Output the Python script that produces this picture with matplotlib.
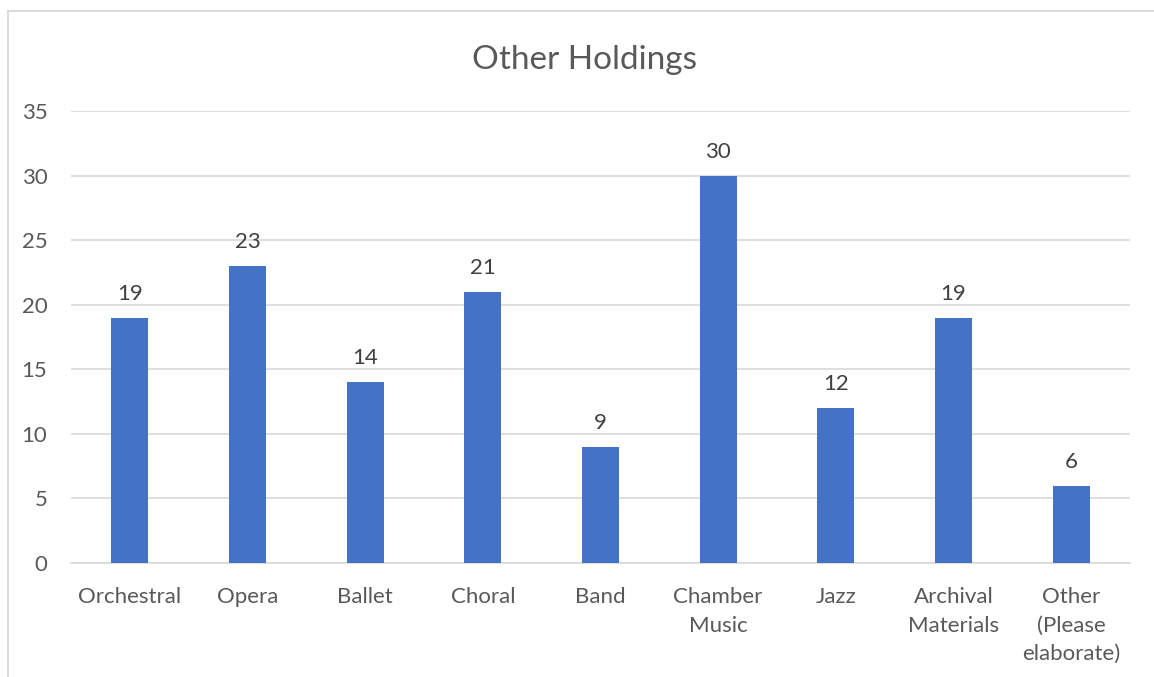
import matplotlib.pyplot as plt
import numpy as np
from matplotlib.lines import Line2D

# holdings counts per category
categories = ["Orchestral", "Opera", "Ballet", "Choral", "Band",
              "Chamber\nMusic", "Jazz", "Archival\nMaterials",
              "Other\n(Please\nelaborate)"]
counts = [19, 23, 14, 21, 9, 30, 12, 19, 6]
yticks = [0, 5, 10, 15, 20, 25, 30, 35]

plt.rcParams['font.family'] = ['Lato', 'DejaVu Sans']
text_color = "#595959"

fig = plt.figure(figsize=(11.54, 6.77), dpi=100)
ax = fig.add_axes([0.0615, 0.1684, 0.9177, 0.6677])

x = np.arange(len(categories))
bars = ax.bar(x, counts, width=0.315, color="#4472c4", zorder=3)

for xi, v in zip(x, counts):
    ax.annotate(str(v), (xi, v), xytext=(0, 10), textcoords="offset points",
                ha="center", va="bottom", fontsize=16, color="#404040")

ax.set_xlim(-0.5, len(categories) - 0.5)
ax.set_ylim(0, 35)
ax.set_yticks(yticks)
ax.set_xticks(x)
ax.set_xticklabels(categories, fontsize=16, color=text_color, linespacing=1.52)
ax.tick_params(axis="y", labelsize=16, labelcolor=text_color, length=0, pad=17)
ax.tick_params(axis="x", length=0, pad=17.5)
ax.grid(axis="y", color="#d9d9d9", linewidth=1.2, zorder=0)
for side in ["top", "right", "left"]:
    ax.spines[side].set_visible(False)
ax.spines["bottom"].set_color("#d9d9d9")
ax.spines["bottom"].set_linewidth(1.2)

fig.text(0.5064, 0.911, "Other Holdings", ha="center", va="center",
         fontsize=24, color=text_color)

# chart frame
fig.add_artist(Line2D([0.0065, 0.0065], [0, 0.984], color="#d9d9d9", lw=1.3,
                      transform=fig.transFigure))
fig.add_artist(Line2D([0.0065, 1.0], [0.984, 0.984], color="#d9d9d9", lw=1.3,
                      transform=fig.transFigure))

fig.savefig("out.png", dpi=100, facecolor="white")
